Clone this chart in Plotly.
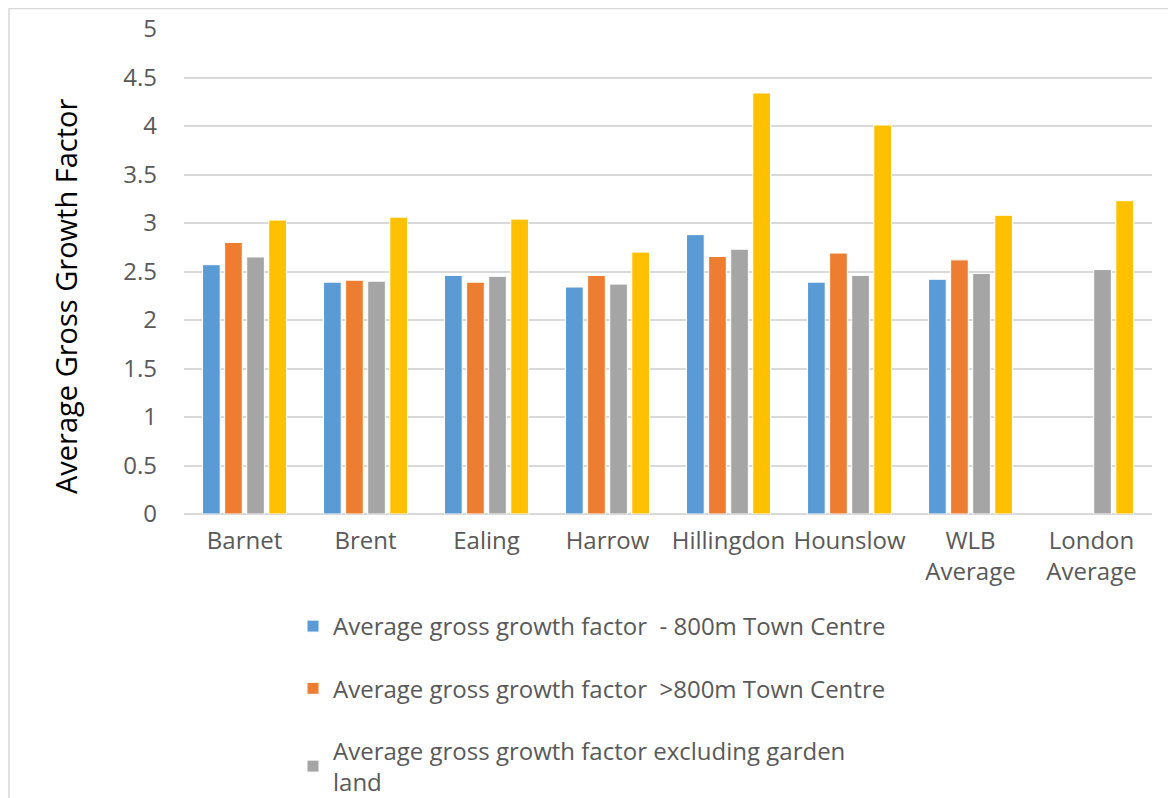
import plotly.graph_objects as go

categories = ["Barnet", "Brent", "Ealing", "Harrow", "Hillingdon", "Hounslow", "WLB<br>Average", "London<br>Average"]
tc_within = [2.57, 2.39, 2.46, 2.34, 2.88, 2.39, 2.42, None]
tc_beyond = [2.80, 2.41, 2.39, 2.46, 2.655, 2.69, 2.62, None]
excl_garden = [2.65, 2.40, 2.45, 2.37, 2.73, 2.46, 2.48, 2.52]
overall = [3.03, 3.06, 3.04, 2.70, 4.34, 4.01, 3.08, 3.23]

series = [
    ("Average gross growth factor  - 800m Town Centre", tc_within, "#5B9BD5", True),
    ("Average gross growth factor  >800m Town Centre", tc_beyond, "#ED7D31", True),
    ("Average gross growth factor excluding garden<br>land", excl_garden, "#A5A5A5", True),
    ("Average gross growth factor", overall, "#FFC000", False),
]

y_title = "Average Gross Growth Factor"

# page has an 8px body margin, so the figure is drawn 8px in from the window edge
OFF = 8
W, H = 1176 - OFF, 798 - OFF
ML, MR, MT, MB = 184 - OFF, 24, 29 - OFF, 284

fig = go.Figure()
for i, (name, vals, col, show) in enumerate(series):
    fig.add_trace(go.Bar(
        x=categories, y=vals, name=name,
        marker=dict(color=col, line=dict(color="white", width=1)),
        showlegend=show, legendgroup=f"g{i}",
    ))

pw = W - ML - MR
ph = H - MT - MB
def px_x(p):
    return (p - OFF - ML) / pw
def px_y(p):
    return (H - MB - (p - OFF)) / ph

fig.add_shape(type="rect", xref="paper", yref="paper",
              x0=px_x(9), x1=px_x(1170), y0=px_y(830), y1=px_y(8.5),
              line=dict(color="#D9D9D9", width=1.5), fillcolor="rgba(0,0,0,0)", layer="below")

# y-axis title (Excel places it slightly below the plot-area centre)
fig.add_annotation(text=y_title, xref="paper", yref="paper",
                   x=px_x(65), y=px_y(297), xanchor="center", yanchor="middle",
                   textangle=-90, showarrow=False,
                   font=dict(size=29, color="#000000", family="Open Sans"))

fig.update_layout(
    width=W, height=H,
    margin=dict(l=ML, r=MR, t=MT, b=MB, pad=0, autoexpand=False),
    paper_bgcolor="white", plot_bgcolor="white",
    font=dict(family="Open Sans", color="#595959", size=24),
    barmode="group", bargap=0.27, bargroupgap=0.2,
    xaxis=dict(showgrid=False, showline=False, ticks="", tickfont=dict(size=24, color="#595959"),
               ticklabelstandoff=10),
    yaxis=dict(range=[0, 5], dtick=0.5, showgrid=True, gridcolor="#D9D9D9", gridwidth=1.5,
               zeroline=True, zerolinecolor="#D9D9D9", zerolinewidth=1.5,
               tickfont=dict(size=24, color="#595959"), ticklabelstandoff=26),
    legend=dict(orientation="v", x=px_x(293), xanchor="left", y=px_y(604), yanchor="top",
                font=dict(size=24, color="#595959"), tracegroupgap=28, bgcolor="rgba(0,0,0,0)",
                traceorder="grouped"),
)

fig.write_html("out.html")
